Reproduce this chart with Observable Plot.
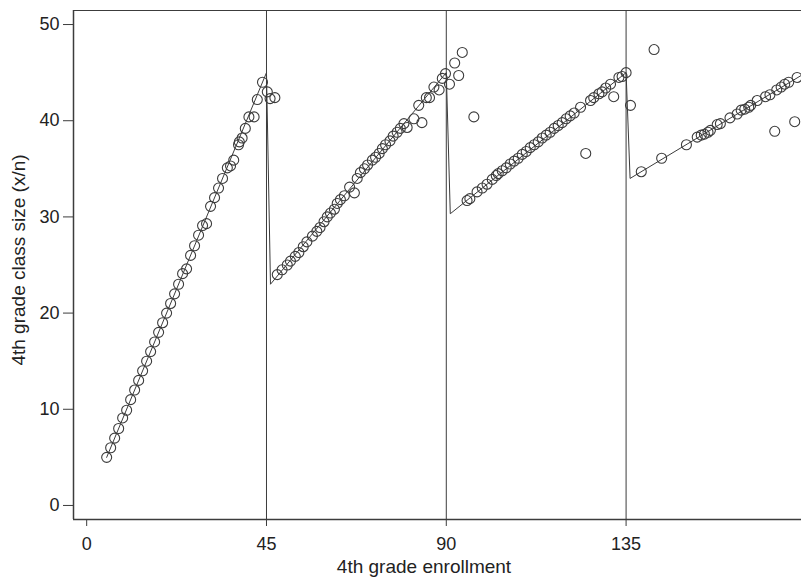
<!DOCTYPE html>
<html>
<head>
<meta charset="utf-8">
<script src="https://cdn.jsdelivr.net/npm/d3@7"></script>
<script src="https://cdn.jsdelivr.net/npm/@observablehq/plot@0.6"></script>
<style>
  html, body { margin: 0; padding: 0; background: #fff; }
  #chart { width: 801px; height: 580px; }
</style>
</head>
<body>
<div id="chart"></div>
<script>
// Observed points: 4th grade enrollment vs. average class size
const enrollment = [
  5,6,7,8,9,10,11,12,13,14,15,16,17,18,19,20,21,22,23,24,25,26,27,28,29,30,31,32,33,34,
  35.2,36.0,36.8,38.0,38.2,38.9,39.7,40.6,41.9,42.7,44.0,45.2,45.9,47.1,
  47.7,48.9,50.2,51.0,52.2,53.1,54.2,55.1,56.5,57.6,58.4,59.4,60.2,61.0,62.0,62.7,63.5,64.5,65.8,67.0,
  67.7,68.5,69.5,70.3,71.5,72.3,73.2,74.0,74.8,75.9,76.7,77.7,78.5,79.4,80.2,81.9,83.9,83.1,85.0,85.8,
  86.9,88.2,89.0,89.8,90.8,92.1,93.1,94.0,96.9,
  95.2,95.9,97.7,99.0,100.2,101.5,102.5,103,104,105,106,107,108,109,110,111,112,113,114,115,116,117,
  118,119,120,121,122,123.6,126.1,126.9,128.2,129.0,129.9,131.1,133.2,134.0,135.0,124.9,131.9,136.1,
  138.8,143.9,142.0,150.1,152.8,153.8,154.6,155.5,156.1,157.8,158.6,161.0,162.8,163.8,164.7,165.7,
  166.2,167.8,169.9,171.0,172.7,173.8,174.7,175.7,177.8,172.2,177.2
];
const classSize = [
  5,6,7,8,9.1,9.9,11,12,13,14,15,16,17,18,19,20,21,22,23,24.1,24.6,26,27,28.1,29.1,29.3,31.1,32,33,34,
  35.1,35.3,35.9,37.5,37.8,38.2,39.2,40.4,40.4,42.2,44.0,43.0,42.3,42.4,
  24.0,24.5,25.0,25.4,25.9,26.3,26.9,27.4,28.0,28.5,28.9,29.5,30.0,30.4,30.8,31.4,31.8,32.2,33.1,32.5,
  34.0,34.6,35.0,35.4,35.9,36.2,36.6,37.1,37.5,37.9,38.4,38.8,39.2,39.7,39.3,40.2,39.8,41.6,42.4,42.4,
  43.5,43.2,44.4,44.9,43.8,46.0,44.7,47.1,40.4,
  31.7,31.9,32.6,33.0,33.4,33.9,34.3,34.5,34.8,35.1,35.5,35.8,36.1,36.5,36.8,37.2,37.5,37.8,38.2,38.5,38.8,39.2,
  39.5,39.8,40.2,40.5,40.8,41.4,42.1,42.4,42.8,43.0,43.4,43.8,44.5,44.6,45.0,36.6,42.5,41.6,
  34.7,36.1,47.4,37.5,38.3,38.5,38.6,38.8,39.0,39.6,39.7,40.3,40.7,41.1,41.2,41.4,
  41.6,42.1,42.5,42.7,43.2,43.5,43.8,44.0,44.5,38.9,39.9
];

// Predicted class size (sawtooth rule) – vertices
const ruleEnrollment = [5, 45, 46, 90, 91, 135, 136, 179];
const ruleSize = [5, 45, 23, 45, 30.33, 45, 34, 44.75];

// Enrollment cutoffs
const cutoffs = [45, 90, 135];

// Axes
const xTicks = [0, 45, 90, 135];
const yTicks = [0, 10, 20, 30, 40, 50];
const xDomain = [-3.3, 178.9];
const yDomain = [-1.46, 51.46];
const xTitle = "4th grade enrollment";
const yTitle = "4th grade class size (x/n)";

const points = enrollment.map((e, i) => ({enrollment: e, size: classSize[i]}));
const ruleLine = ruleEnrollment.map((e, i) => ({enrollment: e, size: ruleSize[i]}));

const ink = "#3c3c3c";

const chart = Plot.plot({
  width: 801,
  height: 580,
  marginLeft: 73,
  marginRight: 0,
  marginTop: 10,
  marginBottom: 61,
  style: {fontFamily: "'Liberation Sans', Arial, sans-serif", fontSize: "18px", color: "#222", background: "#fff"},
  x: {domain: xDomain, ticks: xTicks, tickSize: 7, tickPadding: 11, label: null},
  y: {domain: yDomain, ticks: yTicks, tickSize: 10, tickPadding: 4, label: null},
  marks: [
    Plot.ruleY([yDomain[1]], {stroke: ink, strokeWidth: 1.2}),
    Plot.ruleY([yDomain[0]], {stroke: ink, strokeWidth: 1.5}),
    Plot.ruleX([xDomain[0]], {stroke: ink, strokeWidth: 1.5}),
    Plot.ruleX(cutoffs, {stroke: ink, strokeWidth: 1}),
    Plot.line(ruleLine, {x: "enrollment", y: "size", stroke: ink, strokeWidth: 1, clip: true}),
    Plot.dot(points, {x: "enrollment", y: "size", r: 5, stroke: ink, strokeWidth: 1.1, fill: "none"})
  ]
});

const svg = d3.select(chart);
svg.selectAll("[aria-label='x-axis tick'], [aria-label='y-axis tick']").attr("stroke", ink);
svg.append("text")
  .attr("x", 424).attr("y", 568)
  .attr("text-anchor", "middle").attr("dominant-baseline", "middle")
  .attr("font-size", 19).attr("fill", "#222")
  .text(xTitle);
svg.append("text")
  .attr("transform", "translate(20,260) rotate(-90)")
  .attr("text-anchor", "middle").attr("dominant-baseline", "middle")
  .attr("font-size", 19).attr("fill", "#222")
  .text(yTitle);

document.getElementById("chart").appendChild(chart);
</script>
</body>
</html>
